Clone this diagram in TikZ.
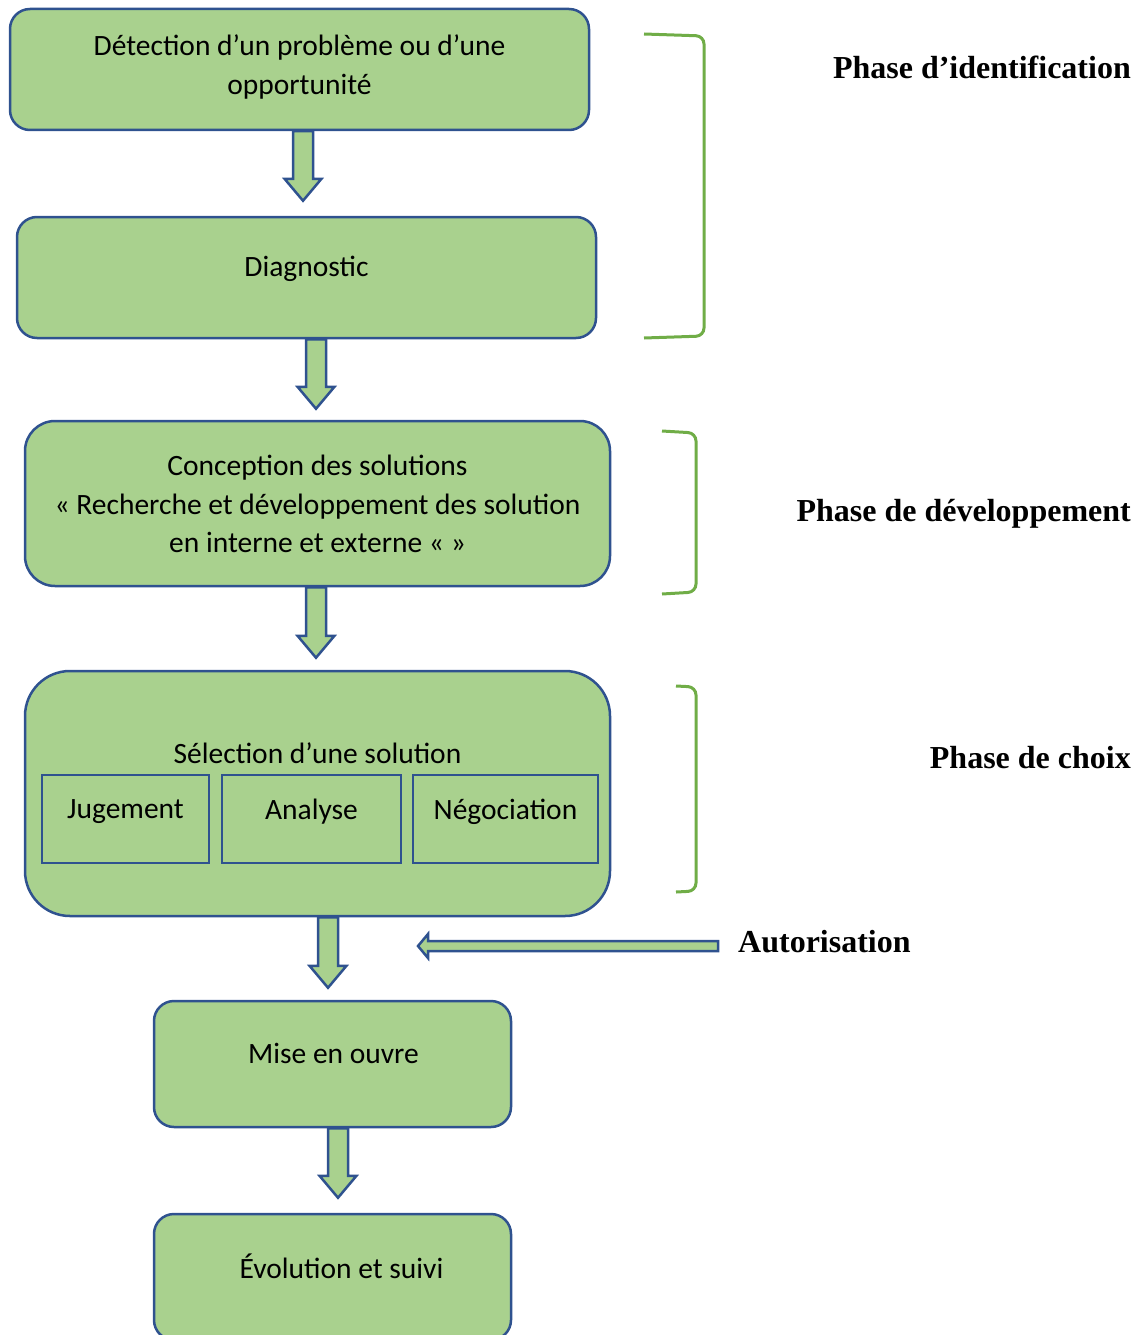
\documentclass[tikz,border=0pt]{standalone}
\usepackage{fontspec}
\setmainfont{Carlito}
\newfontfamily\phasefont{Liberation Serif}
\usetikzlibrary{calc}

\definecolor{boxfill}{HTML}{A9D18E}
\definecolor{boxline}{HTML}{2F528F}
\definecolor{brace}{HTML}{70AD47}

\tikzset{
  box/.style={draw=boxline, fill=boxfill, line width=2.5pt, rectangle, inner sep=0pt},
  subbox/.style={draw=boxline, line width=2.5pt, rectangle, inner sep=0pt},
  txt/.style={font=\fontsize{29.5}{38.5}\selectfont, align=center, inner sep=0pt, text=black},
  phase/.style={font=\phasefont\bfseries\fontsize{32}{38}\selectfont, inner sep=0pt},
  blk/.style={draw=boxline, fill=boxfill, line width=2.5pt, line join=miter},
  bracket/.style={draw=brace, line width=3pt, rounded corners=8pt},
}

% vertical block arrow: x position, source node, target node, gap above target
\newcommand\vblock[4]{%
  \draw[blk] let \p1=(#2.south), \p2=(#3.north) in
    (#1pt-10pt,\y1) -- (#1pt-10pt,\y2+#4pt+22pt) -- (#1pt-18.5pt,\y2+#4pt+22pt)
    -- (#1pt,\y2+#4pt) -- (#1pt+18.5pt,\y2+#4pt+22pt) -- (#1pt+10pt,\y2+#4pt+22pt)
    -- (#1pt+10pt,\y1) -- cycle;}

\begin{document}
\begin{tikzpicture}[x=1pt, y=-1pt]
\useasboundingbox (0,0) rectangle (1144,1335);
\clip (0,0) rectangle (1144,1335);

% process boxes
\node[box, rounded corners=20pt, minimum width=579pt, minimum height=121pt] (b1) at (299.5,69.5) {};
\node[box, rounded corners=20pt, minimum width=579pt, minimum height=121pt] (b2) at (306.5,277.5) {};
\node[box, rounded corners=30pt, minimum width=585pt, minimum height=165pt] (b3) at (317.5,503.5) {};
\node[box, rounded corners=45pt, minimum width=585pt, minimum height=245pt] (b4) at (317.5,793.5) {};
\node[subbox, minimum width=167pt, minimum height=88pt] (s1) at (125.5,819) {};
\node[subbox, minimum width=179pt, minimum height=88pt] (s2) at (311.5,819) {};
\node[subbox, minimum width=185pt, minimum height=88pt] (s3) at (505.5,819) {};
\node[box, rounded corners=20pt, minimum width=357pt, minimum height=126pt] (b5) at (332.5,1064) {};
\node[box, rounded corners=20pt, minimum width=357pt, minimum height=126pt] (b6) at (332.5,1277) {};

% box texts
\node[txt] (t1) at (299.5,67) {Détection d’un problème ou d’une\\opportunité};
\node[txt] (t2) at (306.5,269) {Diagnostic};
\node[txt] (t3) at (317.5,504) {Conception des solutions\\« Recherche et développement des solution\\en interne et externe « »};
\node[txt] (t4) at (317.5,753) {Sélection d’une solution};
\node[txt] (u1) at (125.5,812) {Jugement};
\node[txt] (u2) at (311.5,812) {Analyse};
\node[txt] (u3) at (505.5,812) {Négociation};
\node[txt] (t5) at (333.5,1053) {Mise en ouvre};
\node[txt] (t6) at (341.5,1266) {Évolution et suivi};

% block arrows between steps
\vblock{303}{b1}{b2}{15}
\vblock{316}{b2}{b3}{11}
\vblock{316}{b3}{b4}{12}
\vblock{328}{b4}{b5}{12}
\vblock{338}{b5}{b6}{15}

% phase labels
\node[phase, anchor=east] (p1) at (1131,67) {Phase d’identification};
\node[phase, anchor=east] (p2) at (1131,514) {Phase de développement};
\node[phase, anchor=east] (p3) at (1131,758) {Phase de choix};
\node[phase, anchor=west] (auth) at (738,942) {Autorisation};

% authorisation arrow
\coordinate (authTip) at (418,946);
\draw[blk] let \p1=(auth.west), \p2=(authTip) in
  (\x1-20pt,\y2+5pt) -- (\x2+10pt,\y2+5pt) -- (\x2+10pt,\y2+12pt) -- (\x2,\y2)
  -- (\x2+10pt,\y2-12pt) -- (\x2+10pt,\y2-5pt) -- (\x1-20pt,\y2-5pt) -- cycle;

% phase brackets
\draw[bracket] (644,34) -- (704,36) -- (704,336) -- (644,338);
\draw[bracket] (662,431) -- (696,433) -- (696,592) -- (662,594);
\draw[bracket] (676,686) -- (696,687) -- (696,891) -- (676,892);
\end{tikzpicture}
\end{document}
